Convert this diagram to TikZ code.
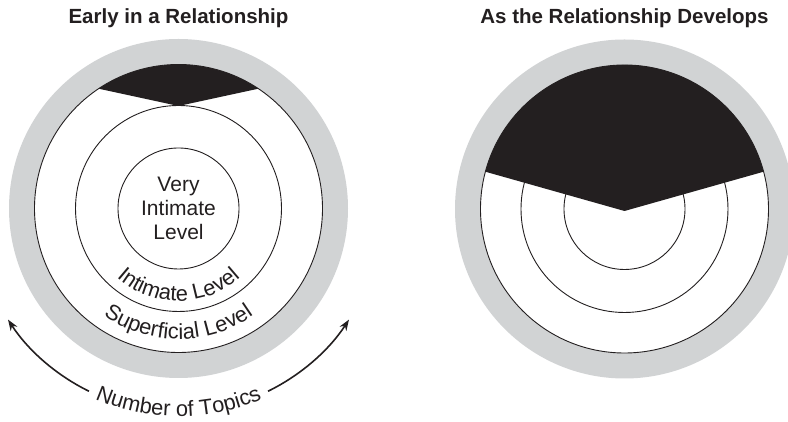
\documentclass[tikz,border=0pt]{standalone}
\usepackage{fontspec}
\usepackage{tikz}
\usetikzlibrary{arrows.meta}
\usetikzlibrary{decorations.text}
\newfontfamily\headfont{Liberation Sans}[WordSpace=1.5]
\newfontfamily\bodyfont{Liberation Sans}
\definecolor{ringgray}{RGB}{209,211,212}
\definecolor{inkblack}{RGB}{35,31,32}
\newcommand{\bodytext}{\bodyfont\fontsize{21}{24}\selectfont}
\newcommand{\arctext}{\bodyfont\fontsize{21.8}{24}\selectfont}
\begin{document}
\begin{tikzpicture}[x=1pt,y=1pt,
    level/.style={line width=0.9pt,draw=inkblack},
    title/.style={anchor=base,inkblack,font=\headfont\bfseries\fontsize{20.5}{24}\selectfont},
    topicarrow/.style={line width=1.6pt,inkblack,-{Stealth[length=11pt,width=8pt]}},
    curved/.style={decorate,decoration={text along path,text align=center,
      text color=inkblack}}]
    \clip (0,0) rectangle (788,422);
    \coordinate (early) at (178.5,213.5);
    \coordinate (later) at (624.5,213);
    % titles
    \node[title] (earlytitle) at (178.5,398.7) {Early in a Relationship};
    \node[title] (latertitle) at (624.5,398.7) {As the Relationship Develops};
    % early in a relationship
    \fill[ringgray] (early) circle[radius=169.5pt];
    \draw[level,fill=white] (early) circle[radius=144pt];
    \foreach \r in {60.5,103}
      \draw[level] (early) circle[radius=\r pt];
    \fill[inkblack] ([shift={(56.3:144pt)}]early) arc[start angle=56.3,end angle=123.7,radius=144pt]
      -- ([shift={(0,102.5)}]early) -- cycle;
    \node[align=center,inkblack,font=\bodytext] (veryintimate) at (early) {Very\\Intimate\\Level};
    \path[curved,decoration={text={|\arctext|Intimate Level}}]
      ([shift={(200:92.5pt)}]early) arc[start angle=200,end angle=340,radius=92.5pt];
    \path[curved,decoration={text={|\arctext|Superficial Level}}]
      ([shift={(215:130.5pt)}]early) arc[start angle=215,end angle=325,radius=130.5pt];
    \path[curved,decoration={text={|\arctext|Number of Topics}}]
      ([shift={(235:208pt)}]early) arc[start angle=235,end angle=305,radius=208pt];
    \coordinate (lefttail) at ([shift={(243.9:203.5pt)}]early);
    \coordinate (righttail) at ([shift={(296.1:203.5pt)}]early);
    \draw[topicarrow] (lefttail) arc[start angle=243.9,end angle=213.1,radius=203.5pt];
    \draw[topicarrow] (righttail) arc[start angle=296.1,end angle=326.9,radius=203.5pt];
    % as the relationship develops
    \fill[ringgray] (later) circle[radius=169.5pt];
    \draw[level,fill=white] (later) circle[radius=144pt];
    \foreach \r in {60.5,103.5}
      \draw[level] (later) circle[radius=\r pt];
    \fill[inkblack] ([shift={(15:144pt)}]later) arc[start angle=15,end angle=165,radius=144pt]
      -- ([shift={(0,-2)}]later) -- cycle;
  \end{tikzpicture}
\end{document}
